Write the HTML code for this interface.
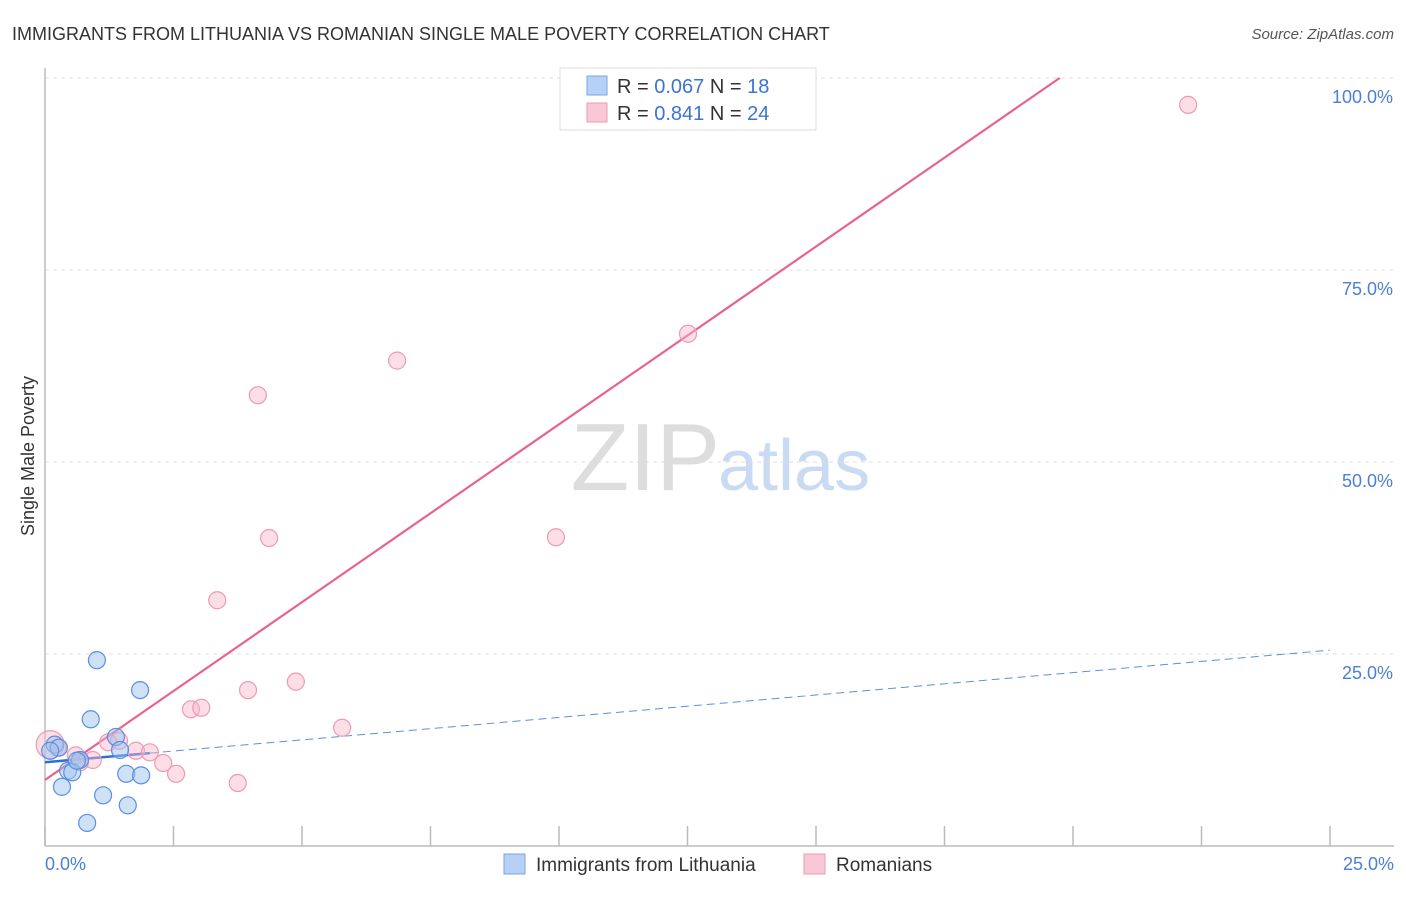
<!DOCTYPE html>
<html><head><meta charset="utf-8"><style>
body{margin:0;background:#fff;font-family:"Liberation Sans",sans-serif}
text{font-family:"Liberation Sans",sans-serif}
</style></head><body>
<svg width="1406" height="892">
<text x="12" y="40" font-size="18" fill="#333">IMMIGRANTS FROM LITHUANIA VS ROMANIAN SINGLE MALE POVERTY CORRELATION CHART</text>
<text x="1394" y="39" font-size="15" fill="#555" font-style="italic" text-anchor="end">Source: ZipAtlas.com</text>
<text x="34" y="456" font-size="18" fill="#333" transform="rotate(-90 34 456)" text-anchor="middle">Single Male Poverty</text>
<text x="720" y="490" font-size="96" fill="#ddd" font-family="Liberation Serif" text-anchor="end">ZIP</text>
<text x="718" y="490" font-size="72" fill="#c9daf3">atlas</text>
<g id="grid"></g>
<line x1="45" y1="68" x2="45" y2="846" stroke="#bbb" stroke-width="1.5"/>
<line x1="45" y1="846" x2="1394" y2="846" stroke="#bbb" stroke-width="1.5"/>
<g id="ticks"></g>
<text x="45" y="870" font-size="18" fill="#4a7fd6">0.0%</text>
<text x="1394" y="870" font-size="18" fill="#4a7fd6" text-anchor="end">25.0%</text>
<g id="lines"></g>
<g id="points"></g>
<g>
<rect x="560" y="68" width="256" height="62" fill="#fff" stroke="#ddd"/>
<rect x="587" y="76" width="20" height="19" fill="#b7d0f5" stroke="#7aa6e8"/>
<rect x="587" y="103" width="20" height="19" fill="#f8c8d7" stroke="#ef9ab5"/>
<text x="617" y="93" font-size="20" fill="#333">R = <tspan fill="#3a74d4">0.067</tspan>   N =  <tspan fill="#3a74d4">18</tspan></text>
<text x="617" y="120" font-size="20" fill="#333">R =  <tspan fill="#3a74d4">0.841</tspan>   N = <tspan fill="#3a74d4">24</tspan></text>
</g>
<g>
<rect x="504" y="854" width="21" height="20" fill="#b7d0f5" stroke="#7aa6e8"/>
<text x="536" y="871" font-size="19" fill="#333">Immigrants from Lithuania</text>
<rect x="804" y="854" width="21" height="20" fill="#f8c8d7" stroke="#ef9ab5"/>
<text x="836" y="871" font-size="19" fill="#333">Romanians</text>
</g>
</svg>
<script>
const yTicks=[25,50,75,100];
const xTicks=[0,2.5,5,7.5,10,12.5,15,17.5,20,22.5,25];
const blueX=[1.01,1.85,0.89,1.38,1.46,0.19,0.27,0.10,0.68,0.45,0.53,1.58,1.87,0.33,1.13,1.61,0.82,0.62];
const blueY=[24.2,20.3,16.5,14.2,12.5,13.2,12.8,12.4,11.2,9.8,9.6,9.4,9.2,7.7,6.6,5.3,3.0,11.1];
const pinkX=[22.24,12.51,6.85,4.14,4.36,9.94,3.35,3.95,4.88,2.84,3.04,5.78,0.10,0.25,1.23,1.44,1.77,2.04,0.93,2.30,2.55,3.75,0.60,0.68];
const pinkY=[96.5,66.7,63.2,58.7,40.1,40.2,32.0,20.3,21.4,17.8,18.0,15.4,13.2,12.8,13.5,13.7,12.4,12.2,11.2,10.8,9.4,8.2,11.8,10.9];
const blueFit=[10.9,25.5];
const pinkFit=[8.6,4.63];
const NS='http://www.w3.org/2000/svg';
const sx=v=>45+v*51.4, sy=v=>846-v*7.68;
function mk(t,a,p){const e=document.createElementNS(NS,t);for(const k in a)e.setAttribute(k,a[k]);document.getElementById(p).appendChild(e);return e;}
yTicks.forEach(t=>{
 const l=mk('line',{x1:45,x2:1394,y1:sy(t),y2:sy(t),stroke:'#ddd','stroke-dasharray':'4,4'},'grid');
 
 
 const tx=mk('text',{x:1393,y:sy(t)+25,'font-size':18,fill:'#4a7fd6','text-anchor':'end'},'grid');
 tx.textContent=t.toFixed(1)+'%';
 
 
});
xTicks.forEach(t=>{
 const l=mk('line',{x1:sx(t),x2:sx(t),y1:826,y2:846,stroke:'#bbb','stroke-width':1.5},'ticks');
 
 
});
// blue fit
const bs=(blueFit[1]-blueFit[0])/25;
let l1=mk('line',{x1:sx(0),y1:sy(blueFit[0]),x2:sx(2.04),y2:sy(blueFit[0]+bs*2.04),stroke:'#2f6fd6','stroke-width':2.5},'lines');


let l2=mk('line',{x1:sx(2.04),y1:sy(blueFit[0]+bs*2.04),x2:sx(25),y2:sy(blueFit[1]),stroke:'#5b8fe0','stroke-width':1,'stroke-dasharray':'8,5'},'lines');


const xe=(100-pinkFit[0])/pinkFit[1];
let l3=mk('line',{x1:sx(0),y1:sy(pinkFit[0]),x2:sx(xe),y2:sy(100),stroke:'#e8638f','stroke-width':2.2},'lines');


pinkX.forEach((x,i)=>{
 const c=mk('circle',{cx:sx(x),cy:sy(pinkY[i]),r:i==12?14:8.5,fill:'rgba(248,182,202,0.45)',stroke:'#ec9ab4','stroke-width':1.2},'points');
 
 
});
blueX.forEach((x,i)=>{
 const c=mk('circle',{cx:sx(x),cy:sy(blueY[i]),r:8.5,fill:'rgba(160,195,240,0.5)',stroke:'#5b8fe0','stroke-width':1.2},'points');
 
 
});
</script>
</body></html>
